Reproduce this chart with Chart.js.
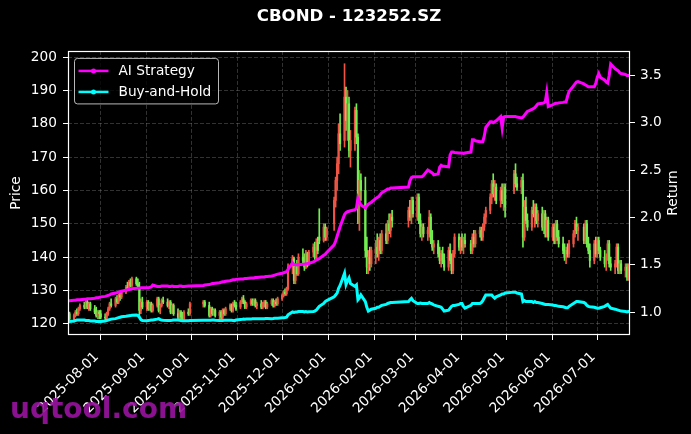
<!DOCTYPE html>
<html>
<head>
<meta charset="utf-8">
<script src="https://cdn.jsdelivr.net/npm/chart.js@4.4.0/dist/chart.umd.min.js"></script>
<style>
html,body{margin:0;padding:0;background:#000;}
#wrap{width:691px;height:434px;position:relative;overflow:hidden;}
canvas{display:block;}
</style>
</head>
<body>
<div id="wrap"><canvas id="c" width="691" height="434"></canvas></div>
<script>
// ---------------- DATA ----------------
const TITLE = 'CBOND - 123252.SZ';
const FIRST_DATE = '2025-07-10';
const LAST_DATE = '2026-07-23';
const HOLIDAYS = ['2025-10-01','2025-10-02','2025-10-03','2025-10-06','2025-10-07','2025-10-08',
  '2026-01-01','2026-01-02','2026-02-16','2026-02-17','2026-02-18','2026-02-19','2026-02-20','2026-02-23',
  '2026-04-06','2026-05-01','2026-05-04','2026-05-05','2026-06-19'];

const monthTicks = ['2025-08-01','2025-09-01','2025-10-01','2025-11-01','2025-12-01','2026-01-01',
  '2026-02-01','2026-03-01','2026-04-01','2026-05-01','2026-06-01','2026-07-01'];
const priceTicks = [120,130,140,150,160,170,180,190,200];
const returnTicks = [1.0,1.5,2.0,2.5,3.0,3.5];

const open = [
 122,123,121.5,122.5,123.5,123,124.5,125.5,125,126.5,125,126,124.5,123.5,122.5,123.5,
 123,122,121.8,123,124.5,126,125.5,127.5,126.5,128.5,128,129.5,131,130.5,132.5,131.5,133.5,132,131,124,126.5,
 125,126.5,124.5,126,124,125.5,127.5,124,125.5,127,126.5,125.5,126.5,123.5,125.5,123,122,123.5,122,121.5,123.5,123,
 126,126.5,125.5,122.5,124.5,123,124,122.5,123.5,122,124,123,124.5,125.5,124,126,125.5,
 125,126.5,127.5,126.5,125,126,127,126,127,125.5,126,125,126,126.5,125,126,127,125.5,126.5,126,
 127.5,128.5,129.5,129,130.5,137,139.5,133,137,135,140,139,137,141,138,141.5,143,140,144.5,146,145,149,146,
 150,157,163,168,177,175,188,181,186,172,174,184,176,156,163,160,142,137,140,138,
 141,143,141,145,142,147,145,150,148,152,151,154,152,157,
 152,158,151,147,149,147,148,152,145,143,144,141,139,141,139,137,142,139,136,141,146,143,
 145,143,145,144,142,146,144,147,148,146,149,152,154,158,162,159,161,157,160,157,161,
 160,165,162,161,163,146,155,151,149,154,153,155,151,153,149,153,147,151,
 146,149,145,150,146,144,142,140,142,141,144,147,150,148,149,145,150,144,142,139,144,
 141,145,142,140,138,140,144,138,137,138,143,136,138,136,137,134,137
];
const high = [
 123.5,123.5,123,124,124.5,125,126,126.5,127,127,126.5,126.5,125.5,125,124,124,
 124,123,123.5,125,126.5,127.5,128,128.5,129,129.5,130,131.5,132.5,133,133.5,134,134,133.5,132.5,127.5,128,
 127,127,126.5,126.5,126,128,128,126,127.5,128,127.5,127,127,126,126,124.5,124,124,123.5,124,124.5,126.5,
 127,127,126.5,125,125,124.5,124.5,124,124,124.5,124.5,125,126,126,126.5,127,126.5,
 127,128,128.5,127,126.5,127.5,127.5,127.5,127.5,126.5,127,126.5,127,127,126.5,127.5,127.5,127,127.5,128,
 129,130,130.5,131,138,140.5,140,138,139,141,142.5,141,142,141.5,142,144,144.5,145.5,146,154.5,150,150,149,
 158,164,170,180,183,198,191,190,188,178,185,186,177,166,165,164,146,142,143,143,
 145,147,146,147,148,150,151,153,153,154,155,157,158,158,
 159,159,153,150,150,149,154,153,148,145,145,143,142,143,141,143,144,141,142,147,147,146,
 147,146,147,145,147,148,148,149,149,150,153,155,159,163,165,163,162,161,162,162,162,
 166,168,164,164,165,157,158,153,155,157,156,156,154,155,154,154,152,152,
 150,150,151,151,148,146,144,143,144,145,148,151,152,150,150,151,151,146,144,145,146,
 146,146,143,142,141,145,145,140,139,144,144,139,139,138,138,138,138
];
const low = [
 121,121,120.5,122,122.5,122.5,124,124.5,124.5,124.5,124,124,123,122,121.5,121.5,
 121.5,121,121.5,122.5,124,125,125,126,126,127,127.5,129,130,130,131,131,131.5,130.5,122.5,123,124.5,
 124,124,124,123.5,123.5,125,123.5,123,125,126,125,124.5,123,123,122.5,121.5,121.5,121.5,121,121,122.5,122.5,
 125,125,122,122,122.5,122.5,122,121.5,121.5,121.5,122.5,122.5,124,123.5,123.5,125,124,
 124.5,126,126,124.5,124.5,125.5,125.5,125.5,125,124.5,124.5,124.5,125,124.5,124.5,125.5,125,125,125.5,125.5,
 127,128,128.5,128.5,130,135,132,132,134.5,134.5,138,136,136.5,137,137.5,140,139,139.5,141,144,144.5,145,145,
 148,155,160,165,172,173,178,175,170,167,172,174,150,148,157,140,135,135,136,137,
 138,140,139,141,141,144,144,147,146,149,149,151,150,152,
 151,150,146,145,146,145,146,144,142,141,140,138,137,138,136,136,138,135,135,140,142,141,
 142,141,143,141,141,143,143,146,145,145,148,150,153,156,158,157,156,155,156,154,152,
 159,161,160,159,143,145,150,148,148,152,149,150,149,148,147,146,146,145,
 145,144,144,145,143,141,139,138,140,140,143,146,147,145,144,144,143,141,137,138,140,
 140,141,139,137,136,139,137,136,135,137,135,135,135,134,133,133,134
];
const close = [
 123,121.5,122.5,123.5,123,124.5,125.5,125,126.5,125,126,124.5,123.5,122.5,123.5,123,
 122,121.8,123,124.5,126,125.5,127.5,126.5,128.5,128,129.5,131,130.5,132.5,131.5,133.5,132,131,124,126.5,125,
 126.5,124.5,126,124,125.5,127.5,124,125.5,127,126.5,125.5,126.5,123.5,125.5,123,122,123.5,122,121.5,123.5,123,126,
 126.5,125.5,122.5,124.5,123,124,122.5,123.5,122,124,123,124.5,125.5,124,126,125.5,124.5,
 126.5,127.5,126.5,125,126,127,126,127,125.5,126,125,126,126.5,125,126,127,125.5,126.5,126,127.5,
 128.5,129.5,129,130.5,137,139.5,133,137,135,140,139,137,141,138,141.5,143,140,144.5,142,145,149,146,148.5,
 157,163,168,177,174,188,181,186,172,175,184,176,156,163,160,142,137,140,138,142,
 143,141,145,142,147,145,150,148,152,151,154,152,157,153,
 158,151,147,149,147,148,152,145,143,144,141,139,141,139,137,142,139,136,141,146,143,145,
 143,145,144,142,146,144,147,148,146,149,152,154,158,162,159,161,157,160,157,161,155,
 165,162,161,163,146,155,151,149,154,153,155,151,153,149,153,147,151,146,
 149,145,150,146,144,142,140,142,141,144,147,150,148,149,145,150,144,142,139,144,141,
 145,142,140,138,140,144,138,137,138,143,136,138,136,137,134,137,136
];
const aiReturn = [
 1.12,1.12,1.125,1.125,1.13,1.13,1.13,1.135,1.135,1.14,1.14,1.14,1.145,1.15,1.15,1.155,
 1.16,1.165,1.17,1.175,1.18,1.19,1.2,1.205,1.21,1.215,1.22,1.23,1.235,1.24,1.24,1.245,1.25,1.25,1.25,1.255,1.255,
 1.255,1.255,1.26,1.265,1.285,1.27,1.27,1.27,1.275,1.275,1.275,1.27,1.27,1.275,1.27,1.27,1.275,1.275,1.27,1.27,1.275,1.275,
 1.28,1.285,1.29,1.295,1.30,1.30,1.305,1.31,1.315,1.32,1.32,1.325,1.33,1.335,1.34,1.34,1.345,
 1.35,1.35,1.35,1.355,1.355,1.36,1.36,1.36,1.365,1.365,1.37,1.37,1.37,1.375,1.375,1.38,1.385,1.39,1.395,1.40,
 1.41,1.415,1.42,1.425,1.45,1.52,1.50,1.50,1.50,1.50,1.505,1.505,1.51,1.51,1.515,1.53,1.54,1.55,1.555,1.565,1.60,1.61,1.63,
 1.71,1.75,1.80,1.85,1.90,2.03,2.05,2.06,2.065,2.07,2.08,2.10,2.20,2.16,2.13,2.10,2.12,2.14,2.15,2.16,
 2.20,2.21,2.22,2.24,2.26,2.29,2.30,2.30,2.31,2.31,2.32,2.39,2.42,2.43,
 2.43,2.43,2.43,2.43,2.44,2.50,2.49,2.48,2.47,2.45,2.46,2.53,2.55,2.54,2.54,2.535,2.66,2.69,2.69,2.685,2.68,2.68,
 2.68,2.675,2.68,2.69,2.82,2.82,2.81,2.80,2.80,2.80,2.86,2.95,3.01,3.01,3.00,3.01,3.02,3.065,2.945,3.06,3.065,
 3.065,3.065,3.06,3.05,3.06,3.08,3.10,3.12,3.14,3.15,3.16,3.18,3.20,3.205,3.21,3.22,3.32,3.17,
 3.19,3.20,3.205,3.205,3.21,3.215,3.22,3.22,3.28,3.33,3.39,3.41,3.43,3.435,3.41,3.40,3.39,3.38,3.38,3.38,3.42,
 3.48,3.52,3.48,3.45,3.43,3.42,3.50,3.62,3.57,3.56,3.55,3.53,3.52,3.51,3.50,3.50,3.50
];
const bhReturn = [
 0.90,0.90,0.905,0.91,0.915,0.915,0.915,0.915,0.91,0.91,0.91,0.905,0.905,0.90,0.90,0.90,
 0.90,0.905,0.91,0.915,0.92,0.925,0.93,0.935,0.94,0.945,0.95,0.955,0.958,0.96,0.962,0.965,0.968,0.965,0.945,0.92,0.91,
 0.908,0.91,0.912,0.915,0.915,0.925,0.93,0.92,0.915,0.912,0.91,0.91,0.91,0.912,0.915,0.915,0.912,0.91,0.908,0.908,0.908,0.91,
 0.912,0.912,0.912,0.914,0.915,0.915,0.913,0.91,0.91,0.91,0.912,0.912,0.913,0.912,0.91,0.908,0.915,
 0.92,0.922,0.925,0.923,0.925,0.925,0.928,0.928,0.93,0.93,0.928,0.93,0.93,0.932,0.932,0.93,0.932,0.935,0.935,0.935,
 0.938,0.94,0.942,0.945,0.97,1.0,0.995,1.0,1.0,1.005,1.005,1.0,1.005,1.0,1.003,1.005,1.01,1.02,1.04,1.06,1.09,1.11,1.12,
 1.16,1.18,1.20,1.25,1.28,1.41,1.29,1.33,1.36,1.30,1.27,1.285,1.13,1.15,1.18,1.11,1.05,1.01,1.02,1.03,
 1.04,1.05,1.05,1.06,1.07,1.08,1.09,1.095,1.10,1.10,1.11,1.13,1.145,1.12,
 1.09,1.09,1.095,1.09,1.09,1.09,1.10,1.09,1.085,1.075,1.06,1.056,1.05,1.03,1.01,1.02,1.04,1.06,1.07,1.07,1.08,1.09,
 1.09,1.06,1.04,1.07,1.09,1.09,1.09,1.09,1.10,1.12,1.15,1.18,1.18,1.18,1.16,1.145,1.16,1.18,1.19,1.19,1.20,
 1.21,1.21,1.20,1.19,1.11,1.12,1.11,1.11,1.11,1.10,1.11,1.10,1.10,1.09,1.085,1.08,1.08,1.08,
 1.075,1.07,1.07,1.065,1.06,1.055,1.05,1.045,1.045,1.06,1.09,1.10,1.11,1.11,1.10,1.09,1.07,1.06,1.055,1.05,1.045,
 1.04,1.04,1.045,1.06,1.07,1.08,1.06,1.04,1.03,1.025,1.02,1.015,1.01,1.005,1.0,1.005,1.01
];

// axis limits
const PRICE_MIN = 116.64, PRICE_MAX = 201.84;
const RET_MIN = 0.757, RET_MAX = 3.759;

// ---------------- HELPERS ----------------
const DAY0 = Date.UTC(2025, 6, 1);
function dayNum(s){ const p = s.split('-').map(Number); return (Date.UTC(p[0], p[1]-1, p[2]) - DAY0) / 86400000; }
function isoOf(t){ return new Date(t).toISOString().slice(0,10); }
// trading calendar (weekdays minus exchange holidays)
const tradeDates = [];
for (let t = Date.UTC(2025,6,10); t <= Date.UTC(2026,6,23); t += 86400000) {
  const wd = new Date(t).getUTCDay();
  const s = isoOf(t);
  if (wd === 0 || wd === 6 || HOLIDAYS.includes(s)) continue;
  tradeDates.push(s);
}
const N = Math.min(tradeDates.length, open.length, high.length, low.length, close.length, aiReturn.length, bhReturn.length);
const days = tradeDates.slice(0, N).map(dayNum);
const tickDays = monthTicks.map(dayNum);
const tickLabel = {}; monthTicks.forEach(s => tickLabel[dayNum(s)] = s);

const UP = '#ee5544', DOWN = '#72ee50';
const candleColors = days.map((d, i) => close[i] >= open[i] ? UP : DOWN);

const FONT = '"DejaVu Sans", sans-serif';
const FS = 13.7;
Chart.defaults.font.family = FONT;
Chart.defaults.font.size = FS;
Chart.defaults.color = '#ffffff';

const GRID = 'rgba(140,140,140,0.45)';

const deco = {
  id: 'deco',
  beforeDraw(chart) {
    const ctx = chart.ctx;
    ctx.save(); ctx.fillStyle = '#000'; ctx.fillRect(0, 0, chart.width, chart.height); ctx.restore();
  },
  afterDatasetsDraw(chart) {
    const ctx = chart.ctx, a = chart.chartArea;
    ctx.save();
    ctx.strokeStyle = '#ffffff'; ctx.lineWidth = 1.2;
    ctx.strokeRect(Math.round(a.left) + 0.5, Math.round(a.top) + 0.5, Math.round(a.right) - Math.round(a.left) - 1, Math.round(a.bottom) - Math.round(a.top) - 1);
    ctx.restore();
  },
  afterDraw(chart) {
    const ctx = chart.ctx, a = chart.chartArea;
    ctx.save();
    // legend box
    const bx = a.left + 6.5, by = a.top + 7.5, bw = 144, bh = 45.5, r = 3;
    ctx.beginPath();
    ctx.moveTo(bx + r, by); ctx.lineTo(bx + bw - r, by); ctx.arcTo(bx + bw, by, bx + bw, by + r, r);
    ctx.lineTo(bx + bw, by + bh - r); ctx.arcTo(bx + bw, by + bh, bx + bw - r, by + bh, r);
    ctx.lineTo(bx + r, by + bh); ctx.arcTo(bx, by + bh, bx, by + bh - r, r);
    ctx.lineTo(bx, by + r); ctx.arcTo(bx, by, bx + r, by, r); ctx.closePath();
    ctx.fillStyle = 'rgba(0,0,0,0.8)'; ctx.fill();
    ctx.strokeStyle = 'rgba(204,204,204,0.9)'; ctx.lineWidth = 1; ctx.stroke();
    const lines = chart.data.datasets.filter(d => d.type === 'line');
    lines.forEach((ds, k) => {
      const y = by + 12.5 + k * 21;
      ctx.strokeStyle = ds.borderColor; ctx.lineWidth = 2.5;
      ctx.beginPath(); ctx.moveTo(bx + 4, y); ctx.lineTo(bx + 34, y); ctx.stroke();
      ctx.fillStyle = ds.borderColor;
      ctx.beginPath(); ctx.arc(bx + 19, y, 2.5, 0, Math.PI * 2); ctx.fill();
      ctx.fillStyle = '#ffffff'; ctx.font = FS + 'px ' + FONT; ctx.textBaseline = 'middle'; ctx.textAlign = 'left';
      ctx.fillText(ds.label, bx + 44, y + 0.5);
    });
    // right axis title
    ctx.translate(673.5, (a.top + a.bottom) / 2);
    ctx.rotate(-Math.PI / 2);
    ctx.fillStyle = '#ffffff'; ctx.font = FS + 'px ' + FONT; ctx.textAlign = 'center'; ctx.textBaseline = 'middle';
    ctx.fillText('Return', 0, 0);
    ctx.restore();
    // watermark
    ctx.save();
    ctx.font = 'bold 28px ' + FONT; ctx.fillStyle = 'rgba(150,18,155,0.92)';
    ctx.textAlign = 'left'; ctx.textBaseline = 'alphabetic';
    ctx.fillText('uqtool.com', 10, 418);
    ctx.restore();
  }
};

new Chart(document.getElementById('c'), {
  type: 'bar',
  data: {
    datasets: [
      { type: 'bar', label: 'wick', data: days.map((d, i) => ({ x: d, y: [low[i], high[i]] })),
        backgroundColor: candleColors, barThickness: 1, grouped: false, borderWidth: 0, borderSkipped: false, yAxisID: 'y', order: 3 },
      { type: 'bar', label: 'body', data: days.map((d, i) => ({ x: d, y: [open[i], close[i]] })),
        backgroundColor: candleColors, barThickness: 1.5, grouped: false, borderWidth: 0, borderSkipped: false, yAxisID: 'y', order: 2 },
      { type: 'line', label: 'AI Strategy', data: days.map((d, i) => ({ x: d, y: aiReturn[i] })),
        borderColor: '#ff00ff', backgroundColor: '#ff00ff', borderWidth: 3, pointRadius: 0, tension: 0, yAxisID: 'y1', order: 1 },
      { type: 'line', label: 'Buy-and-Hold', data: days.map((d, i) => ({ x: d, y: bhReturn[i] })),
        borderColor: '#00ffff', backgroundColor: '#00ffff', borderWidth: 3, pointRadius: 0, tension: 0, yAxisID: 'y1', order: 0 }
    ]
  },
  options: {
    responsive: false, maintainAspectRatio: false, animation: false, devicePixelRatio: 1,
    layout: { padding: 0 },
    plugins: {
      legend: { display: false },
      tooltip: { enabled: false },
      title: { display: true, text: TITLE, color: '#ffffff', fullSize: false,
        font: { size: 16.6, weight: 'bold', family: FONT }, padding: { top: 7, bottom: 24 } }
    },
    scales: {
      x: {
        type: 'linear', min: dayNum(FIRST_DATE), max: dayNum(LAST_DATE), offset: false,
        afterBuildTicks: s => { s.ticks = tickDays.map(v => ({ value: v })); },
        afterFit: s => { s.height = 99; },
        ticks: { autoSkip: false, maxRotation: 45, minRotation: 45, padding: 9, labelOffset: -4, color: '#ffffff',
          callback: v => tickLabel[v] || '' },
        grid: { offset: false, color: GRID, lineWidth: 0.8, tickColor: '#ffffff', tickLength: 5, tickWidth: 1 },
        border: { display: false, dash: [4, 2] }
      },
      y: {
        type: 'linear', position: 'left', min: PRICE_MIN, max: PRICE_MAX, beginAtZero: false,
        afterBuildTicks: s => { s.ticks = priceTicks.map(v => ({ value: v })); },
        afterFit: s => { s.width = 68; },
        ticks: { padding: 6, color: '#ffffff', callback: v => String(v) },
        grid: { color: GRID, lineWidth: 0.8, tickColor: '#ffffff', tickLength: 5, tickWidth: 1 },
        border: { display: false, dash: [4, 2] },
        title: { display: true, text: 'Price', color: '#ffffff', font: { size: FS }, padding: { top: 8.7, bottom: 0 } }
      },
      y1: {
        type: 'linear', position: 'right', min: RET_MIN, max: RET_MAX, beginAtZero: false,
        afterBuildTicks: s => { s.ticks = returnTicks.map(v => ({ value: v })); },
        afterFit: s => { s.width = 61; },
        ticks: { padding: 5, color: '#ffffff', callback: v => Number(v).toFixed(1) },
        grid: { drawOnChartArea: false, tickColor: '#ffffff', tickLength: 5, tickWidth: 1 },
        border: { display: false }
      }
    }
  },
  plugins: [deco]
});
</script>
</body>
</html>
